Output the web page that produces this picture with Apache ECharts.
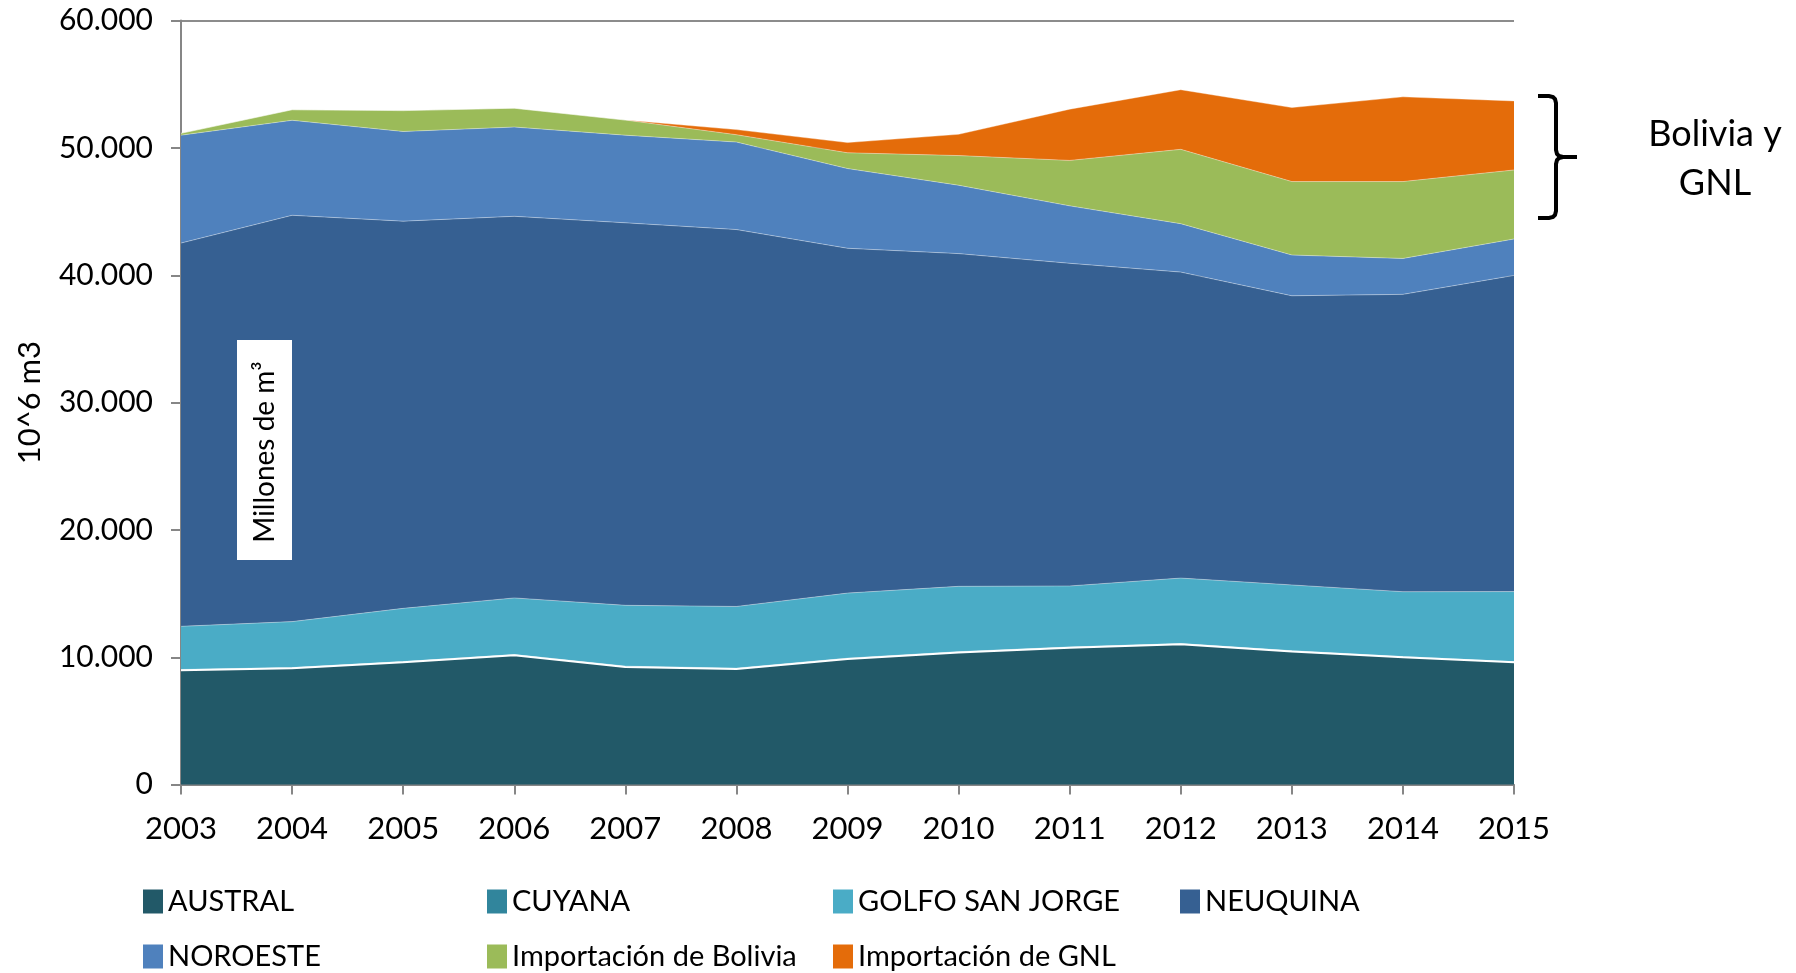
<!DOCTYPE html>
<html>
<head>
<meta charset="utf-8">
<script src="https://cdn.jsdelivr.net/npm/echarts@6/dist/echarts.min.js"></script>
<style>
html,body{margin:0;padding:0;background:#fff;}
#c{width:1796px;height:973px;}
</style>
</head>
<body>
<div id="c"></div>
<script>
// ---- data (millones de m3) ----
const years = ['2003','2004','2005','2006','2007','2008','2009','2010','2011','2012','2013','2014','2015'];
const austral   = [8980, 9130, 9600, 10150, 9240, 9080, 9870, 10380, 10750, 11020, 10460, 10000, 9600];
const cuyana    = [60, 60, 60, 60, 60, 60, 55, 55, 55, 55, 50, 50, 50];
const golfo     = [3390, 3610, 4180, 4450, 4780, 4850, 5115, 5135, 4795, 5145, 5170, 5100, 5510];
const neuquina  = [30100, 31910, 30410, 29970, 30040, 29600, 27080, 26130, 25340, 24030, 22710, 23350, 24830];
const noroeste  = [8470, 7460, 7040, 7010, 6880, 6870, 6260, 5370, 4510, 3800, 3200, 2820, 2860];
const bolivia   = [150, 830, 1640, 1480, 1190, 580, 1240, 2330, 3570, 5840, 5770, 6040, 5420];
const gnl       = [0, 0, 0, 0, 0, 400, 800, 1670, 4020, 4680, 5810, 6650, 5420];
const seriesNames = ['AUSTRAL','CUYANA','GOLFO SAN JORGE','NEUQUINA','NOROESTE','Importación de Bolivia','Importación de GNL'];
const yTicks = [0, 10000, 20000, 30000, 40000, 50000, 60000];

const colors = ['#225968','#31859c','#4aacc6','#366092','#4f81bd','#9bbb59','#e46c0a'];
const values = [austral, cuyana, golfo, neuquina, noroeste, bolivia, gnl];
const FONT = 'Lato, "Open Sans", sans-serif';

const chart = echarts.init(document.getElementById('c'), null, {renderer:'canvas'});

function fmt(v){ return String(v).replace(/\B(?=(\d{3})+(?!\d))/g, '.'); }

const series = seriesNames.map((n,i)=>({
  name: n,
  type: 'line',
  stack: 'total',
  data: values[i],
  symbol: 'none',
  showSymbol: false,
  smooth: false,
  itemStyle: {color: colors[i]},
  lineStyle: i===0 ? {color:'#ffffff', width:2} : {color:'rgba(255,255,255,0.35)', width:1},
  areaStyle: {color: colors[i], opacity: 1},
  emphasis: {disabled: true},
  z: 2
}));

const legendPos = [
  [143, 887], [487, 887], [833, 887], [1180, 887],
  [143, 942], [487, 942], [833, 942]
];
const legends = seriesNames.map((n,i)=>({
  data: [n],
  left: legendPos[i][0],
  top: legendPos[i][1],
  icon: 'rect',
  itemWidth: 20,
  itemHeight: 24,
  itemGap: 0,
  padding: 0,
  selectedMode: false,
  textStyle: {fontFamily: FONT, fontSize: 29, color: '#000', padding:[0,0,0,0]}
}));

const option = {
  animation: false,
  backgroundColor: '#ffffff',
  color: colors,
  grid: {left: 181, right: 282, top: 20.6, bottom: 188.4, containLabel: false},
  xAxis: {
    type: 'category',
    data: years,
    boundaryGap: false,
    axisLine: {lineStyle: {color: '#868686', width: 2}},
    axisTick: {show: true, length: 10, lineStyle: {color: '#868686', width: 2}},
    axisLabel: {fontFamily: FONT, fontSize: 31, color: '#000', margin: 29},
    splitLine: {show: false}
  },
  yAxis: {
    type: 'value',
    min: yTicks[0],
    max: yTicks[yTicks.length-1],
    interval: yTicks[1]-yTicks[0],
    name: '10^6 m3',
    nameLocation: 'middle',
    nameGap: 136,
    nameTextStyle: {fontFamily: FONT, fontSize: 31, color: '#000'},
    axisLine: {show: true, lineStyle: {color: '#868686', width: 2}},
    axisTick: {show: true, length: 10, lineStyle: {color: '#868686', width: 2}},
    axisLabel: {fontFamily: FONT, fontSize: 30, color: '#000', margin: 28, formatter: fmt},
    splitLine: {show: true, lineStyle: {color: '#8c8c8c', width: 2}}
  },
  legend: legends,
  series: series,
  graphic: [
    {type:'rect', shape:{x:237, y:340, width:55, height:220}, style:{fill:'#ffffff'}, z:10},
    {type:'text', x:265, y:452, rotation: Math.PI/2, style:{text:'Millones de m³', font:'28px ' + FONT, fill:'#000', textAlign:'center', textVerticalAlign:'middle'}, z:11},
    {type:'polyline', shape:{points:[[1538,96],[1549,96],[1553,97],[1555,99],[1556,103],[1556,150],[1557,154],[1559,156],[1563,157],[1577,157]]}, style:{stroke:'#000', lineWidth:4, fill:null}, z:10},
    {type:'polyline', shape:{points:[[1563,157],[1559,158],[1557,160],[1556,164],[1556,211],[1555,215],[1553,217],[1549,218],[1538,218]]}, style:{stroke:'#000', lineWidth:4, fill:null}, z:10},
    {type:'text', x:1715, y:134, style:{text:'Bolivia y', font:'36px ' + FONT, fill:'#000', textAlign:'center', textVerticalAlign:'middle'}, z:10},
    {type:'text', x:1715, y:183, style:{text:'GNL', font:'36px ' + FONT, fill:'#000', textAlign:'center', textVerticalAlign:'middle'}, z:10}
  ]
};
chart.setOption(option);
</script>
</body>
</html>
